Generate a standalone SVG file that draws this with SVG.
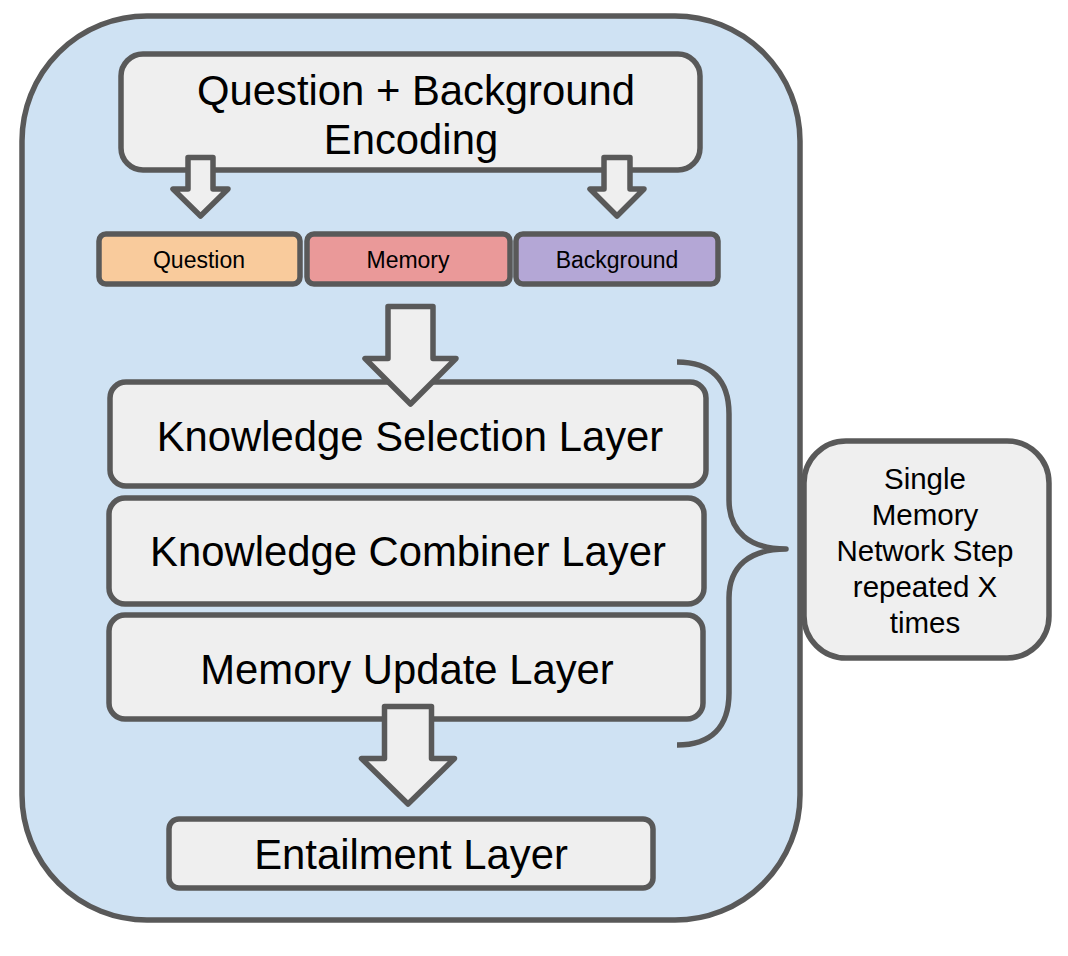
<svg xmlns="http://www.w3.org/2000/svg" width="1068" height="956" viewBox="0 0 1068 956">
  <style>
    .ln { stroke: #595959; stroke-width: 5.5; stroke-linejoin: round; }
    .box { fill: #efefef; }
    .arrow { fill: #efefef; }
    .t { font-family: "Liberation Sans", Arial, sans-serif; fill: #000000; text-anchor: middle; }
    .big { font-size: 41.8px; }
    .small { font-size: 23px; }
    .side { font-size: 29.5px; }
  </style>
  <rect width="1068" height="956" fill="#ffffff"/>

  <g id="container">
    <rect class="ln" x="22" y="16" width="778" height="904" rx="125" ry="125" fill="#cfe2f3"/>
  </g>

  <g id="encoding">
    <rect class="ln box" x="121" y="54" width="579" height="116" rx="22" ry="22"/>
    <text class="t big" x="416" y="105">Question + Background</text>
    <text class="t big" x="411" y="154">Encoding</text>
  </g>

  <g id="question">
    <rect class="ln" x="99" y="234" width="201" height="50" rx="7" ry="7" fill="#f9cb9c"/>
    <text class="t small" x="199" y="268">Question</text>
  </g>
  <g id="memory">
    <rect class="ln" x="307" y="234" width="203" height="50" rx="7" ry="7" fill="#ea9999"/>
    <text class="t small" x="408" y="268">Memory</text>
  </g>
  <g id="background">
    <rect class="ln" x="516" y="234" width="202" height="50" rx="7" ry="7" fill="#b4a7d6"/>
    <text class="t small" x="617" y="268">Background</text>
  </g>

  <g id="knowledge-selection">
    <rect class="ln box" x="110" y="382" width="596" height="104" rx="16" ry="16"/>
    <text class="t big" x="410" y="451">Knowledge Selection Layer</text>
  </g>
  <g id="knowledge-combiner">
    <rect class="ln box" x="109" y="498" width="595" height="106" rx="16" ry="16"/>
    <text class="t big" x="408" y="566">Knowledge Combiner Layer</text>
  </g>
  <g id="memory-update">
    <rect class="ln box" x="109" y="615" width="594" height="104" rx="16" ry="16"/>
    <text class="t big" x="407" y="684">Memory Update Layer</text>
  </g>
  <g id="entailment">
    <rect class="ln box" x="169" y="819" width="484" height="69" rx="10" ry="10"/>
    <text class="t big" x="411" y="869">Entailment Layer</text>
  </g>

  <g id="repeat-note">
    <rect class="ln box" x="804" y="441" width="245" height="217" rx="42" ry="42"/>
    <text class="t side" x="925" y="489">Single</text>
    <text class="t side" x="925" y="525">Memory</text>
    <text class="t side" x="925" y="561">Network Step</text>
    <text class="t side" x="925" y="597">repeated X</text>
    <text class="t side" x="925" y="633">times</text>
  </g>

  <g id="connectors">
    <path class="ln arrow" d="M188 157.5 L213 157.5 L213 189 L228 189 L200.5 216 L173 189 L188 189 Z"/>
    <path class="ln arrow" d="M604 157.5 L630 157.5 L630 189 L644 189 L617 216 L590 189 L604 189 Z"/>
    <path class="ln arrow" d="M388 306.5 L433 306.5 L433 358.5 L456 358.5 L410.5 404 L365 358.5 L388 358.5 Z"/>
    <path class="ln arrow" d="M384.5 706.5 L431.5 706.5 L431.5 758.5 L454.5 758.5 L408 804 L361.5 758.5 L384.5 758.5 Z"/>
    <path class="ln" fill="none" d="M677 362 C711 362 729 380 729 414 L729 500 C729 532 750 549 786 549 C750 549 729 566 729 598 L729 693 C729 727 711 745 677 745"/>
  </g>
</svg>
